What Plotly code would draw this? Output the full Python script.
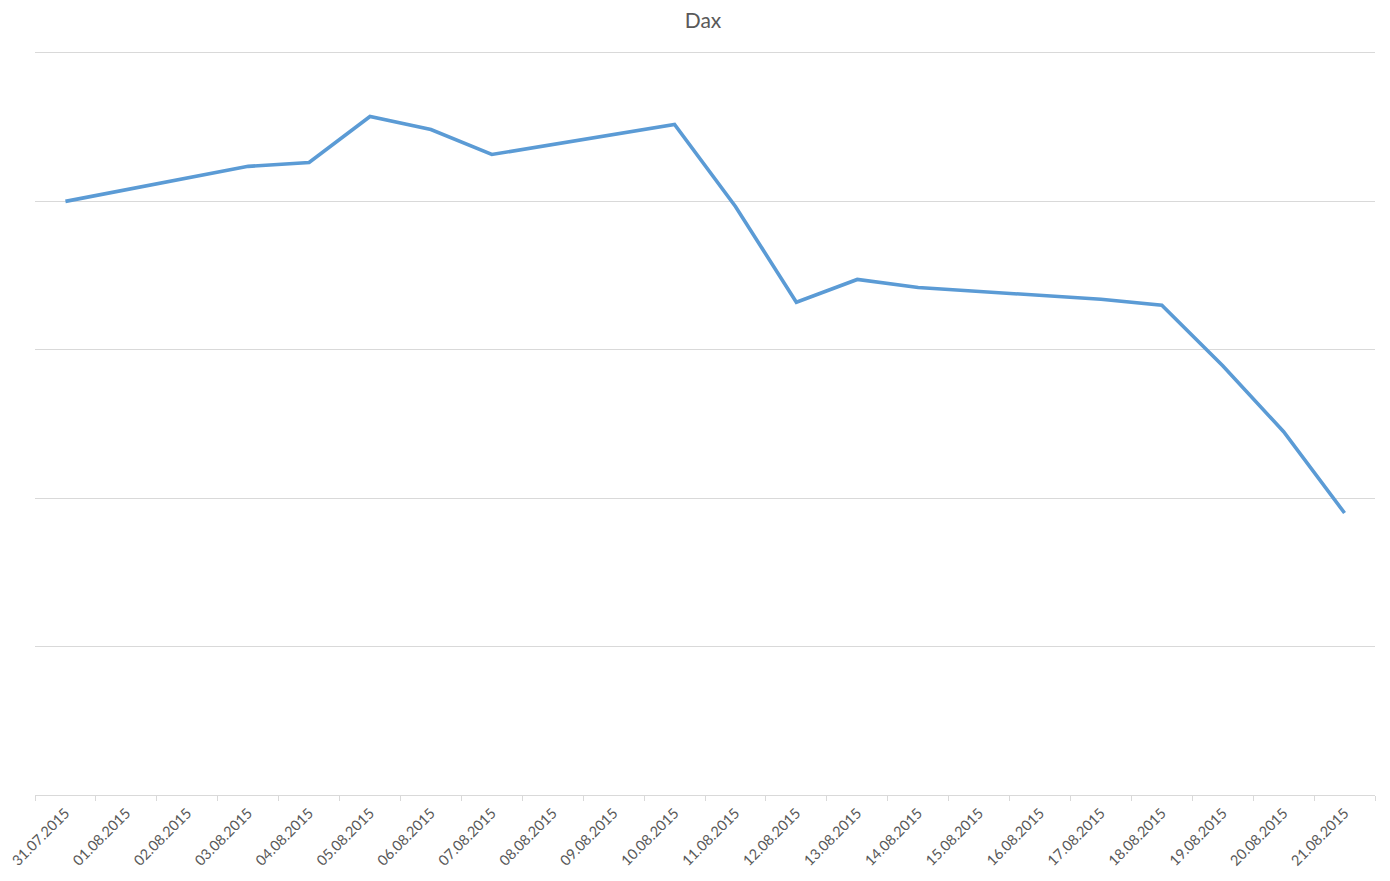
import plotly.graph_objects as go

dates = ["31.07.2015", "01.08.2015", "02.08.2015", "03.08.2015", "04.08.2015",
         "05.08.2015", "06.08.2015", "07.08.2015", "08.08.2015", "09.08.2015",
         "10.08.2015", "11.08.2015", "12.08.2015", "13.08.2015", "14.08.2015",
         "15.08.2015", "16.08.2015", "17.08.2015", "18.08.2015", "19.08.2015",
         "20.08.2015", "21.08.2015"]
dax = [11500, None, None, 11618, 11631,
       11786, 11742, 11658, None, None,
       11759, 11483, 11160, 11237, 11210,
       None, None, 11170, 11150, 10946,
       10724, 10450]

fig = go.Figure()
fig.add_trace(go.Scatter(
    x=dates, y=dax, mode="lines", connectgaps=True,
    line=dict(color="#5b9bd5", width=3.6),
    name="Dax", showlegend=False,
))

font_family = "Lato, 'Open Sans', sans-serif"
fig.update_layout(
    width=1390, height=881,
    paper_bgcolor="white", plot_bgcolor="white",
    margin=dict(l=27, r=23, t=42, b=94, autoexpand=False),
    title=dict(text="Dax", x=0.5, xanchor="center", y=0.994, yanchor="top",
               font=dict(family=font_family, size=21, color="#595959")),
    font=dict(family=font_family, color="#595959"),
    showlegend=False,
)
fig.update_xaxes(
    type="category", categoryorder="array", categoryarray=dates,
    range=[-0.5, len(dates) - 0.5], automargin=False,
    tickson="boundaries", ticks="outside", ticklen=5, tickcolor="#d9d9d9",
    showgrid=False, showline=True, linecolor="#d9d9d9", linewidth=1,
    tickangle=-45, tickfont=dict(size=14.5, color="#595959"),
    ticklabelstandoff=3,
)
fig.update_yaxes(
    range=[9500, 12010], dtick=500, tick0=9500, automargin=False,
    showticklabels=False, showgrid=True, gridcolor="#d9d9d9", gridwidth=1,
    zeroline=False, showline=False, ticks="",
)

fig.write_html("out.html")
